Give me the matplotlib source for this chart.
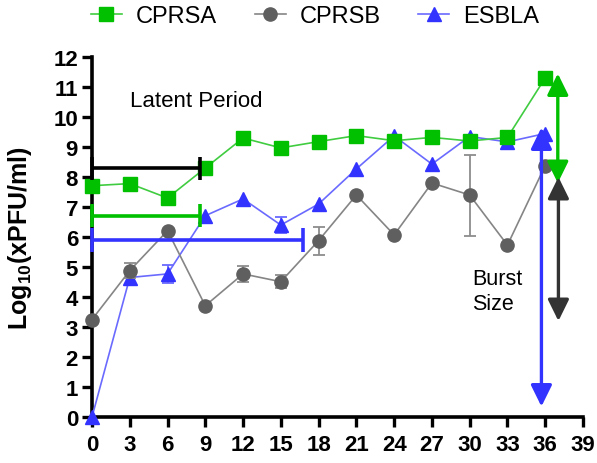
import numpy as np
from matplotlib import pyplot as plt

plt.rcParams['font.family'] = ['Liberation Sans', 'DejaVu Sans']
plt.rcParams['mathtext.fontset'] = 'custom'
plt.rcParams['mathtext.rm'] = 'Liberation Sans'
plt.rcParams['mathtext.bf'] = 'Liberation Sans:bold'

## data (time in min, log10 titre)
time = [0, 3, 6, 9, 12, 15, 18, 21, 24, 27, 30, 33, 36]

cprsa     = [7.71, 7.78, 7.3, 8.3, 9.3, 8.97, 9.18, 9.38, 9.21, 9.32, 9.2, 9.32, 11.3]
cprsa_err = [0, 0, 0, 0, 0, 0.15, 0, 0, 0, 0, 0, 0, 0]

cprsb     = [3.25, 4.88, 6.21, 3.71, 4.77, 4.51, 5.88, 7.4, 6.07, 7.8, 7.4, 5.73, 8.38]
cprsb_err = [0, 0.25, 0, 0, 0.27, 0.22, 0.47, 0, 0, 0, 1.35, 0, 0]

esbla     = [0.0, 4.65, 4.77, 6.71, 7.27, 6.4, 7.1, 8.27, 9.37, 8.43, 9.35, 9.17, 9.45]
esbla_err = [0, 0, 0.3, 0, 0, 0.27, 0, 0, 0, 0, 0, 0, 0]

# latent period brackets: (level, end time, colour)
latent_levels = [8.29, 6.71, 5.9]
latent_ends   = [8.6, 8.6, 16.8]
latent_cols   = ['black', '#00c000', '#3333ff']

# burst size arrows: (x, top, bottom, colour)
burst_x      = [35.7, 37.0, 37.05]
burst_top    = [9.65, 11.45, 8.0]
burst_bottom = [0.35, 7.8, 3.2]
burst_cols   = ['#3333ff', '#00c000', '#333333']

fig = plt.figure(figsize=(5.97, 4.64), dpi=100)
ax = fig.add_axes([0.1541, 0.0991, 0.8224, 0.7759])

series = [
    ('ESBLA', esbla, esbla_err, '^', '#3333ff', '#6a6aff', 10.5, 2),
    ('CPRSB', cprsb, cprsb_err, 'o', '#5f5f5f', '#858585', 9.5, 3),
    ('CPRSA', cprsa, cprsa_err, 's', '#00c000', '#40cc40', 9.5, 4),
]
handles = {}
for name, y, err, mk, mc, lc, ms, z in series:
    yerr = np.array(err)
    ax.errorbar(time, y, yerr=np.where(yerr > 0, yerr, np.nan), fmt='none',
                ecolor='#8c8c8c' if name == 'CPRSB' else lc, elinewidth=1.3,
                capsize=4.5, capthick=1.3, zorder=z, clip_on=False)
    h, = ax.plot(time, y, color=lc, lw=1.2, marker=mk, ms=ms, mfc=mc, mec=mc,
                 zorder=z + 0.5, clip_on=False)
    handles[name] = h

for lvl, end, col in zip(latent_levels, latent_ends, latent_cols):
    ax.plot([0, end], [lvl, lvl], color=col, lw=2.6, zorder=5, clip_on=False,
            solid_capstyle='butt')
    for xc in (0, end):
        ax.plot([xc, xc], [lvl - 0.39, lvl + 0.39], color=col, lw=2.6,
                zorder=5, clip_on=False, solid_capstyle='butt')

for xa, top, bot, col in zip(burst_x, burst_top, burst_bottom, burst_cols):
    ax.annotate('', xy=(xa, bot), xytext=(xa, top),
                arrowprops=dict(arrowstyle='<|-|>,head_length=0.65,head_width=0.32',
                                color=col, lw=2.4, shrinkA=0, shrinkB=0,
                                mutation_scale=20),
                zorder=6, annotation_clip=False)

ax.text(3.0, 10.37, 'Latent Period', fontsize=16, va='baseline', ha='left')
ax.text(30.2, 4.43, 'Burst', fontsize=15.5, va='baseline', ha='left')
ax.text(30.2, 3.6, 'Size', fontsize=15.5, va='baseline', ha='left')

ax.set_xlim(0, 39)
ax.set_ylim(0, 12)
ax.set_xticks(range(0, 40, 3))
ax.set_yticks(range(0, 13))
for s in ('top', 'right'):
    ax.spines[s].set_visible(False)
for s in ('left', 'bottom'):
    ax.spines[s].set_linewidth(2.6)
    ax.spines[s].set_zorder(1)
ax.tick_params(width=2.4, length=7, labelsize=16)
ax.tick_params(axis='x', pad=5)
ax.tick_params(axis='y', pad=3)
for lab in ax.get_xticklabels() + ax.get_yticklabels():
    lab.set_fontweight('bold')

ax.set_ylabel('Log$_{\\mathbf{10}}$(xPFU/ml)', fontsize=18, fontweight='bold')
ax.yaxis.set_label_coords(-0.118, 0.5)

fig.legend([handles['CPRSA'], handles['CPRSB'], handles['ESBLA']],
           ['CPRSA', 'CPRSB', 'ESBLA'], loc='center',
           bbox_to_anchor=(0.528, 0.963), ncol=3, frameon=False, fontsize=17,
           handlelength=1.3, handletextpad=0.6, columnspacing=1.6,
           borderpad=0.1)

fig.savefig('out.png', dpi=100)
